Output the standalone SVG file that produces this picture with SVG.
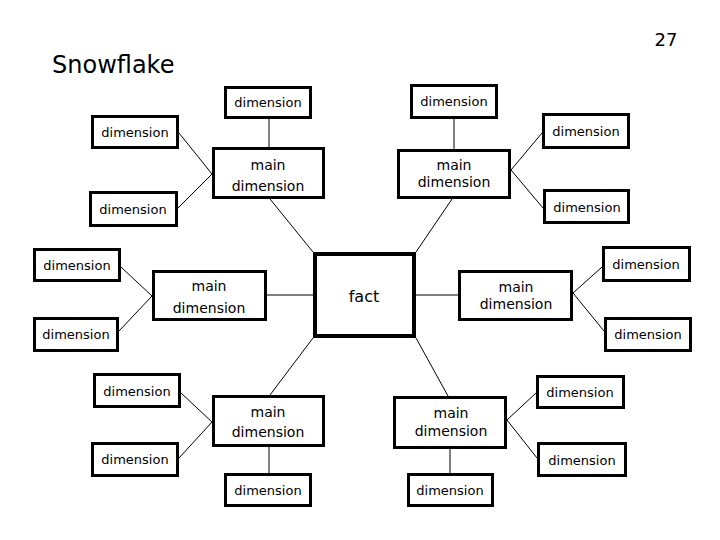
<svg xmlns="http://www.w3.org/2000/svg" width="720" height="540" viewBox="0 0 720 540">
<style>
.box{fill:#fff;stroke:#000;stroke-width:3}
.fact{fill:#fff;stroke:#000;stroke-width:4}
.c line{stroke:#000;stroke-width:1}
text{font-family:"DejaVu Sans","Liberation Sans",sans-serif;fill:#000;text-anchor:middle}
.d{font-size:13px}
.m{font-size:14px}
</style>
<rect width="720" height="540" fill="#fff"/>
<text x="52" y="73" style="font-size:24px;text-anchor:start">Snowflake</text>
<text x="666" y="46" style="font-size:18px">27</text>
<g class="c">
<line x1="270" y1="199" x2="313" y2="252"/>
<line x1="452" y1="199" x2="416" y2="252"/>
<line x1="270" y1="395" x2="313" y2="338"/>
<line x1="448" y1="396" x2="416" y2="338"/>
<line x1="267" y1="295" x2="313" y2="295"/>
<line x1="416" y1="295" x2="458" y2="295"/>
<line x1="269" y1="119" x2="269" y2="147"/>
<line x1="179" y1="133" x2="212" y2="174"/>
<line x1="178" y1="208" x2="212" y2="174"/>
<line x1="454" y1="119" x2="454" y2="149"/>
<line x1="511" y1="170" x2="542" y2="133"/>
<line x1="511" y1="170" x2="543" y2="208"/>
<line x1="121" y1="267" x2="152" y2="296"/>
<line x1="119" y1="331" x2="152" y2="296"/>
<line x1="573" y1="293" x2="602" y2="267"/>
<line x1="573" y1="293" x2="604" y2="331"/>
<line x1="181" y1="393" x2="212" y2="422"/>
<line x1="179" y1="458" x2="212" y2="422"/>
<line x1="269" y1="447" x2="269" y2="473"/>
<line x1="507" y1="420" x2="536" y2="393"/>
<line x1="507" y1="420" x2="537" y2="458"/>
<line x1="450" y1="449" x2="450" y2="473"/>
</g>
<g id="fact"><rect class="fact" x="315" y="254" width="99" height="82"/><text class="m" x="364" y="302" style="font-size:16px">fact</text></g>
<g id="main-tl"><rect class="box" x="213.5" y="148.5" width="110" height="49"/><text class="m" x="268" y="170">main</text><text class="m" x="268" y="191">dimension</text></g>
<g id="main-tr"><rect class="box" x="398.5" y="150.5" width="111" height="47"/><text class="m" x="454" y="170">main</text><text class="m" x="454" y="187">dimension</text></g>
<g id="main-l"><rect class="box" x="153.5" y="271.5" width="112" height="48"/><text class="m" x="209" y="291">main</text><text class="m" x="209" y="313">dimension</text></g>
<g id="main-r"><rect class="box" x="459.5" y="271.5" width="112" height="48"/><text class="m" x="516" y="292">main</text><text class="m" x="516" y="309">dimension</text></g>
<g id="main-bl"><rect class="box" x="213.5" y="396.5" width="110" height="49"/><text class="m" x="268" y="417">main</text><text class="m" x="268" y="437">dimension</text></g>
<g id="main-br"><rect class="box" x="394.5" y="397.5" width="111" height="50"/><text class="m" x="451" y="418">main</text><text class="m" x="451" y="436">dimension</text></g>
<g id="dim1"><rect class="box" x="225.5" y="87.5" width="85" height="30"/><text class="d" x="268" y="107">dimension</text></g>
<g id="dim2"><rect class="box" x="92.5" y="116.5" width="85" height="31"/><text class="d" x="135" y="137">dimension</text></g>
<g id="dim3"><rect class="box" x="90.5" y="192.5" width="86" height="33"/><text class="d" x="133" y="214">dimension</text></g>
<g id="dim4"><rect class="box" x="411.5" y="85.5" width="85" height="32"/><text class="d" x="454" y="106">dimension</text></g>
<g id="dim5"><rect class="box" x="543.5" y="114.5" width="85" height="33"/><text class="d" x="586" y="136">dimension</text></g>
<g id="dim6"><rect class="box" x="544.5" y="190.5" width="84" height="32"/><text class="d" x="587" y="212">dimension</text></g>
<g id="dim7"><rect class="box" x="34.5" y="249.5" width="85" height="31"/><text class="d" x="77" y="270">dimension</text></g>
<g id="dim8"><rect class="box" x="34.5" y="318.5" width="83" height="32"/><text class="d" x="76" y="339">dimension</text></g>
<g id="dim9"><rect class="box" x="603.5" y="247.5" width="86" height="33"/><text class="d" x="646" y="269">dimension</text></g>
<g id="dim10"><rect class="box" x="605.5" y="318.5" width="85" height="32"/><text class="d" x="648" y="339">dimension</text></g>
<g id="dim11"><rect class="box" x="94.5" y="374.5" width="85" height="32"/><text class="d" x="137" y="396">dimension</text></g>
<g id="dim12"><rect class="box" x="92.5" y="443.5" width="85" height="32"/><text class="d" x="135" y="464">dimension</text></g>
<g id="dim13"><rect class="box" x="225.5" y="474.5" width="85" height="31"/><text class="d" x="268" y="495">dimension</text></g>
<g id="dim14"><rect class="box" x="537.5" y="376.5" width="86" height="31"/><text class="d" x="580" y="397">dimension</text></g>
<g id="dim15"><rect class="box" x="538.5" y="443.5" width="87" height="32"/><text class="d" x="582" y="465">dimension</text></g>
<g id="dim16"><rect class="box" x="408.5" y="474.5" width="84" height="31"/><text class="d" x="450" y="495">dimension</text></g>
</svg>
